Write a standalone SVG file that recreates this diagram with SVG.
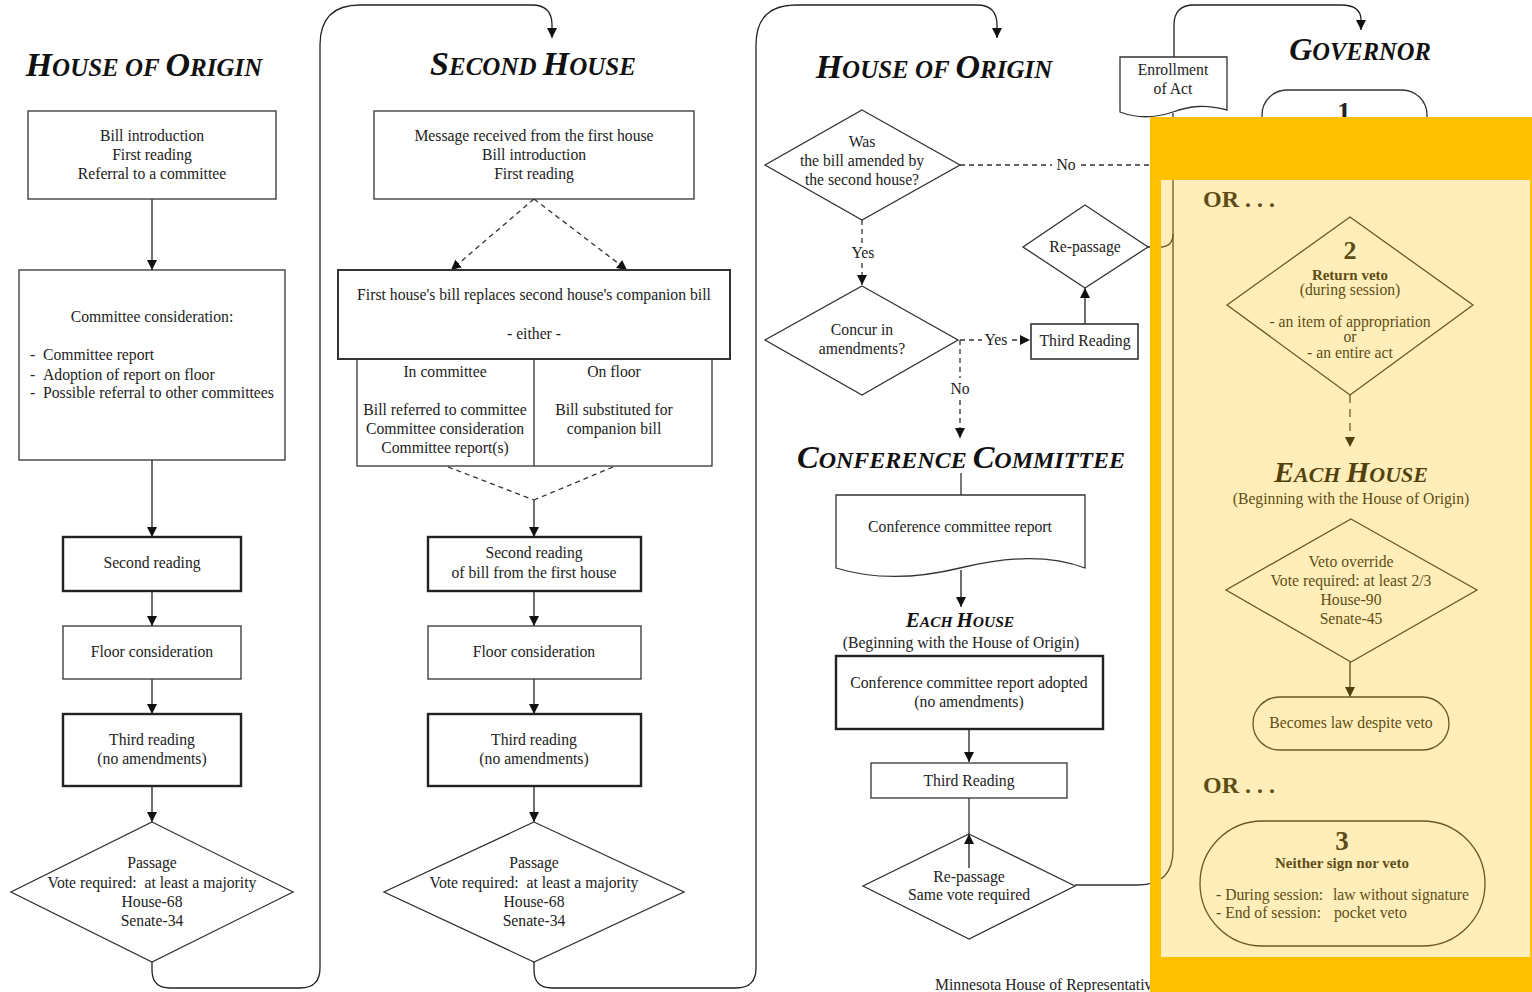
<svg xmlns="http://www.w3.org/2000/svg" width="1532" height="992" viewBox="0 0 1532 992" font-family="'Liberation Serif', 'Times New Roman', serif">
<defs>
<marker id="ah" viewBox="0 0 10 10" refX="10" refY="5" markerWidth="10" markerHeight="11" orient="auto" markerUnits="userSpaceOnUse"><path d="M0,0 L10,5 L0,10 z" fill="#111"/></marker>
<style>
text{font-family:"Liberation Serif","Times New Roman",serif;fill:#222;white-space:pre;}
.t{font-size:15.7px;text-anchor:middle;}
.tl{font-size:15.7px;}
.ttl{font-weight:bold;font-style:italic;text-anchor:middle;fill:#111;}
.b{font-weight:bold;}
.box{fill:#fff;stroke:#333;stroke-width:1.3;}
.thick{fill:#fff;stroke:#222;stroke-width:2.4;}
.ln{fill:none;stroke:#333;stroke-width:1.3;}
.arr{fill:none;stroke:#222;stroke-width:1.3;marker-end:url(#ah);}
.dash{fill:none;stroke:#333;stroke-width:1.3;stroke-dasharray:5,4;}
.dasharr{fill:none;stroke:#333;stroke-width:1.3;stroke-dasharray:5,4;marker-end:url(#ah);}
</style>
</defs>
<rect width="1532" height="992" fill="#fff"/>

<!-- titles -->
<g id="titles">
<text class="ttl" x="144" y="76" font-size="34">H<tspan font-size="25">OUSE OF </tspan>O<tspan font-size="25">RIGIN</tspan></text>
<text class="ttl" x="533" y="75" font-size="34">S<tspan font-size="25">ECOND </tspan>H<tspan font-size="25">OUSE</tspan></text>
<text class="ttl" x="934" y="78" font-size="34">H<tspan font-size="25">OUSE OF </tspan>O<tspan font-size="25">RIGIN</tspan></text>
<text class="ttl" x="961" y="468" font-size="32.5">C<tspan font-size="24">ONFERENCE </tspan>C<tspan font-size="24">OMMITTEE</tspan></text>
<text class="ttl" x="1360" y="60" font-size="32">G<tspan font-size="24.5">OVERNOR</tspan></text>
<text class="ttl" x="960" y="627" font-size="21">E<tspan font-size="15.5">ACH </tspan>H<tspan font-size="15.5">OUSE</tspan></text>
<text class="t" x="961" y="648">(Beginning with the House of Origin)</text>
<text class="ttl" x="1351" y="482" font-size="30">E<tspan font-size="22">ACH </tspan>H<tspan font-size="22">OUSE</tspan></text>
<text class="t" x="1351" y="504">(Beginning with the House of Origin)</text>
<text class="b" x="1203" y="207" font-size="24">OR . . .</text>
<text class="b" x="1203" y="793" font-size="24">OR . . .</text>
<text class="tl" x="935" y="990">Minnesota House of Representatives</text>
</g>

<!-- connectors -->
<g id="connectors">
<line class="arr" x1="152" y1="199" x2="152" y2="270"/>
<line class="arr" x1="152" y1="460" x2="152" y2="537"/>
<line class="arr" x1="152" y1="591" x2="152" y2="626"/>
<line class="arr" x1="152" y1="679" x2="152" y2="714"/>
<line class="arr" x1="152" y1="786" x2="152" y2="822"/>
<path class="arr" d="M152,962 V970 Q152,988 170,988 H300 Q320,988 320,968 V45 Q320,5 360,5 H532 Q552,5 552,25 V38"/>
<line class="dasharr" x1="534" y1="199" x2="451" y2="270"/>
<line class="dasharr" x1="534" y1="199" x2="627" y2="270"/>
<line class="dash" x1="448" y1="467" x2="534" y2="500"/>
<line class="dash" x1="613" y1="467" x2="534" y2="500"/>
<line class="arr" x1="534" y1="500" x2="534" y2="537"/>
<line class="arr" x1="534" y1="591" x2="534" y2="626"/>
<line class="arr" x1="534" y1="679" x2="534" y2="714"/>
<line class="arr" x1="534" y1="786" x2="534" y2="822"/>
<path class="arr" d="M534,962 V970 Q534,988 552,988 H736 Q756,988 756,968 V45 Q756,5 796,5 H977 Q997,5 997,25 V38"/>
<path class="dash" d="M960,165 H1052"/>
<path class="dash" d="M1081,165 H1173"/>
<text class="t" x="1066" y="170">No</text>
<path class="dash" d="M862,220 V244"/>
<text class="t" x="863" y="258">Yes</text>
<path class="dasharr" d="M862,263 V285"/>
<path class="dash" d="M960,340 H982"/>
<text class="t" x="996" y="345">Yes</text>
<path class="dasharr" d="M1012,340 H1030"/>
<line class="arr" x1="1085" y1="324" x2="1085" y2="288"/>
<path class="dash" d="M960,340 V378"/>
<text class="t" x="960" y="394">No</text>
<path class="dasharr" d="M960,400 V438"/>
<line class="ln" x1="961" y1="473" x2="961" y2="496"/>
<line class="arr" x1="961" y1="570" x2="961" y2="607"/>
<line class="arr" x1="969" y1="730" x2="969" y2="762"/>
<line class="ln" x1="969" y1="798" x2="969" y2="834"/>
<line class="arr" x1="969" y1="868" x2="969" y2="834"/>
<path class="ln" d="M1075,885 H1138 Q1173,885 1173,850 V113"/>
<path class="ln" d="M1147,247 H1160 Q1173,247 1173,234"/>
<path class="arr" d="M1174,57 V25 Q1174,5 1194,5 H1341 Q1361,5 1361,20 V30"/>
<path class="dasharr" d="M1350,395 V447" style="stroke-dasharray:8,6"/>
<line class="arr" x1="1350" y1="662" x2="1350" y2="697"/>
</g>

<!-- column 1 -->
<g id="c1-intro">
<rect class="box" x="28" y="111" width="248" height="88"/>
<text class="t" x="152" y="141">Bill introduction</text>
<text class="t" x="152" y="160">First reading</text>
<text class="t" x="152" y="179">Referral to a committee</text>
</g>
<g id="c1-committee">
<rect class="box" x="19" y="270" width="266" height="190"/>
<text class="t" x="152" y="322">Committee consideration:</text>
<text class="tl" x="30" y="360">-</text><text class="tl" x="43" y="360">Committee report</text>
<text class="tl" x="30" y="380">-</text><text class="tl" x="43" y="380">Adoption of report on floor</text>
<text class="tl" x="30" y="398">-</text><text class="tl" x="43" y="398">Possible referral to other committees</text>
</g>
<g id="c1-second">
<rect class="thick" x="63" y="537" width="178" height="54"/>
<text class="t" x="152" y="568">Second reading</text>
</g>
<g id="c1-floor">
<rect class="box" x="63" y="626" width="178" height="53"/>
<text class="t" x="152" y="657">Floor consideration</text>
</g>
<g id="c1-third">
<rect class="thick" x="63" y="714" width="178" height="72"/>
<text class="t" x="152" y="745">Third reading</text>
<text class="t" x="152" y="764">(no amendments)</text>
</g>
<g id="c1-passage">
<polygon class="box" points="152,822 293,892 152,962 11,892"/>
<text class="t" x="152" y="868">Passage</text>
<text class="t" x="152" y="888">Vote required:  at least a majority</text>
<text class="t" x="152" y="907">House-68</text>
<text class="t" x="152" y="926">Senate-34</text>
</g>

<!-- column 2 -->
<g id="c2-message">
<rect class="box" x="374" y="111" width="320" height="88"/>
<text class="t" x="534" y="141">Message received from the first house</text>
<text class="t" x="534" y="160">Bill introduction</text>
<text class="t" x="534" y="179">First reading</text>
</g>
<g id="c2-replaces">
<rect class="box" x="357" y="359" width="355" height="107"/>
<line class="ln" x1="534" y1="359" x2="534" y2="466"/>
<rect class="box" x="338" y="270" width="392" height="89" style="stroke-width:2"/>
<text class="t" x="534" y="300">First house's bill replaces second house's companion bill</text>
<text class="t" x="534" y="339">- either -</text>
<text class="t" x="445" y="377">In committee</text>
<text class="t" x="445" y="415">Bill referred to committee</text>
<text class="t" x="445" y="434">Committee consideration</text>
<text class="t" x="445" y="453">Committee report(s)</text>
<text class="t" x="614" y="377">On floor</text>
<text class="t" x="614" y="415">Bill substituted for</text>
<text class="t" x="614" y="434">companion bill</text>
</g>
<g id="c2-second">
<rect class="thick" x="428" y="537" width="213" height="54"/>
<text class="t" x="534" y="558">Second reading</text>
<text class="t" x="534" y="578">of bill from the first house</text>
</g>
<g id="c2-floor">
<rect class="box" x="428" y="626" width="213" height="53"/>
<text class="t" x="534" y="657">Floor consideration</text>
</g>
<g id="c2-third">
<rect class="thick" x="428" y="714" width="213" height="72"/>
<text class="t" x="534" y="745">Third reading</text>
<text class="t" x="534" y="764">(no amendments)</text>
</g>
<g id="c2-passage">
<polygon class="box" points="534,822 684,892 534,962 384,892"/>
<text class="t" x="534" y="868">Passage</text>
<text class="t" x="534" y="888">Vote required:  at least a majority</text>
<text class="t" x="534" y="907">House-68</text>
<text class="t" x="534" y="926">Senate-34</text>
</g>

<!-- column 3 -->
<g id="c3-amended">
<polygon class="box" points="862,110 960,165 862,220 765,165"/>
<text class="t" x="862" y="147">Was</text>
<text class="t" x="862" y="166">the bill amended by</text>
<text class="t" x="862" y="185">the second house?</text>
</g>
<g id="c3-concur">
<polygon class="box" points="862,286 958,340 862,395 765,340"/>
<text class="t" x="862" y="335">Concur in</text>
<text class="t" x="862" y="354">amendments?</text>
</g>
<g id="c3-third">
<rect class="box" x="1031" y="324" width="107" height="35" style="stroke-width:1.6"/>
<text class="t" x="1085" y="346">Third Reading</text>
</g>
<g id="c3-repassage">
<polygon class="box" points="1085,205 1148,247 1085,288 1023,247"/>
<text class="t" x="1085" y="252">Re-passage</text>
</g>
<g id="cc-report">
<path class="box" d="M836,495 H1085 V568 C1050,555 1010,556 960,568 C915,579 875,580 836,568 Z"/>
<text class="t" x="960" y="532">Conference committee report</text>
</g>
<g id="cc-adopted">
<rect class="thick" x="836" y="656" width="267" height="73"/>
<text class="t" x="969" y="688">Conference committee report adopted</text>
<text class="t" x="969" y="707">(no amendments)</text>
</g>
<g id="cc-third">
<rect class="box" x="871" y="763" width="196" height="35"/>
<text class="t" x="969" y="786">Third Reading</text>
</g>
<g id="cc-repassage">
<polygon class="box" points="969,834 1075,886 969,939 863,886" style="fill:none"/>
<text class="t" x="969" y="882">Re-passage</text>
<text class="t" x="969" y="900">Same vote required</text>
</g>

<!-- governor -->
<g id="enrollment">
<path class="box" d="M1120,57 H1227 V110 C1205,104 1190,106 1173,112 C1155,118 1138,119 1120,112 Z"/>
<text class="t" x="1173" y="75">Enrollment</text>
<text class="t" x="1173" y="94">of Act</text>
</g>
<g id="gov-1">
<rect class="box" x="1262" y="90" width="165" height="80" rx="25"/>
<text class="b" x="1344" y="121" font-size="27" text-anchor="middle">1</text>
</g>
<g id="gov-2">
<polygon class="box" points="1350,217 1473,305 1350,395 1227,305"/>
<text class="b" x="1350" y="259" font-size="26" text-anchor="middle">2</text>
<text class="b" x="1350" y="280" font-size="15" text-anchor="middle">Return veto</text>
<text class="t" x="1350" y="295">(during session)</text>
<text class="t" x="1350" y="327">- an item of appropriation</text>
<text class="t" x="1350" y="342">or</text>
<text class="t" x="1350" y="358">- an entire act</text>
</g>
<g id="gov-override">
<polygon class="box" points="1351,519 1477,590 1351,662 1226,590"/>
<text class="t" x="1351" y="567">Veto override</text>
<text class="t" x="1351" y="586">Vote required: at least 2/3</text>
<text class="t" x="1351" y="605">House-90</text>
<text class="t" x="1351" y="624">Senate-45</text>
</g>
<g id="gov-law">
<rect class="box" x="1253" y="697" width="196" height="53" rx="26.5"/>
<text class="t" x="1351" y="728">Becomes law despite veto</text>
</g>
<g id="gov-3">
<rect class="box" x="1200" y="821" width="285" height="125" rx="62.5"/>
<text class="b" x="1342" y="850" font-size="27" text-anchor="middle">3</text>
<text class="b" x="1342" y="868" font-size="15" text-anchor="middle">Neither sign nor veto</text>
<text class="tl" x="1216" y="900">- During session:</text>
<text class="tl" x="1333" y="900">law without signature</text>
<text class="tl" x="1216" y="918">- End of session:</text>
<text class="tl" x="1334" y="918">pocket veto</text>
</g>

<!-- highlight overlay -->
<g id="highlight">
<path fill="#FFC000" fill-rule="evenodd" d="M1150,117 H1532 V992 H1150 Z M1161,180 V957 H1530 V180 Z"/>
<rect x="1161" y="180" width="369" height="777" fill="#FFC000" fill-opacity="0.27"/>
</g>
</svg>
